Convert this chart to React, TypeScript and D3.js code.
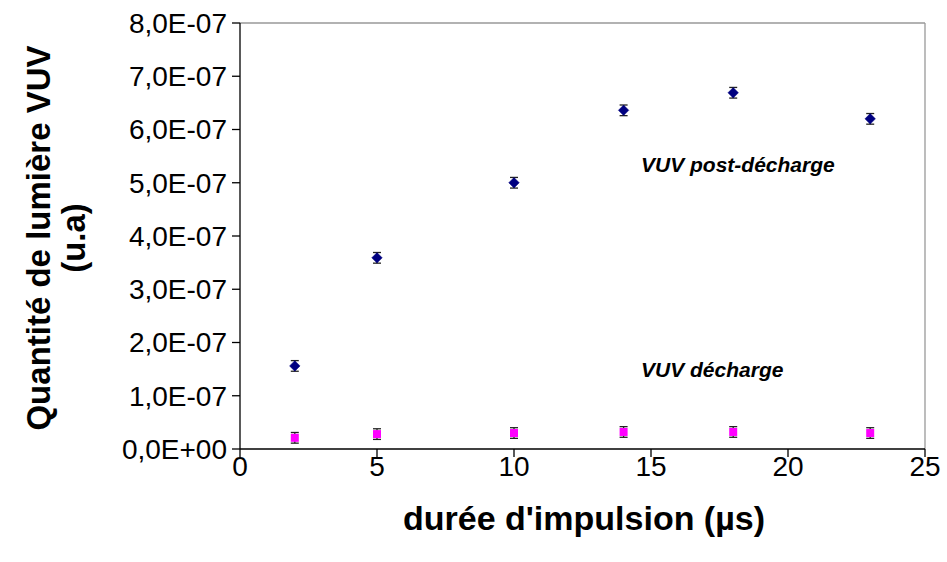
import React from "react";
import * as d3 from "d3";

const durations = [2, 5, 10, 14, 18, 23];
const postDecharge = [1.56e-7, 3.59e-7, 5.0e-7, 6.36e-7, 6.69e-7, 6.2e-7];
const decharge = [0.21e-7, 0.28e-7, 0.3e-7, 0.32e-7, 0.32e-7, 0.3e-7];
const errPost = [0.1e-7, 0.1e-7, 0.1e-7, 0.1e-7, 0.1e-7, 0.1e-7];
const errDech = [0.1e-7, 0.1e-7, 0.1e-7, 0.1e-7, 0.1e-7, 0.1e-7];
const xTicks = [0, 5, 10, 15, 20, 25];
const yTicks = [0, 1e-7, 2e-7, 3e-7, 4e-7, 5e-7, 6e-7, 7e-7, 8e-7];
const yTickLabels = ["0,0E+00", "1,0E-07", "2,0E-07", "3,0E-07", "4,0E-07", "5,0E-07", "6,0E-07", "7,0E-07", "8,0E-07"];

const W = 947, H = 562;
const left = 240, right = 925, top = 23, bottom = 449;

export default function App() {
  const x = d3.scaleLinear().domain([0, 25]).range([left, right]);
  const y = d3.scaleLinear().domain([0, 8e-7]).range([bottom, top]);
  const font = "Arial, 'Liberation Sans', sans-serif";
  const diamond = d3.symbol().type(d3.symbolDiamond2).size(70)();

  const errBar = (xv: number, yv: number, e: number, k: string) => (
    <g key={k} stroke="#222" strokeWidth={1.3}>
      <line x1={x(xv)} x2={x(xv)} y1={y(yv + e)} y2={y(yv - e)} />
      <line x1={x(xv) - 4} x2={x(xv) + 4} y1={y(yv + e)} y2={y(yv + e)} />
      <line x1={x(xv) - 4} x2={x(xv) + 4} y1={y(yv - e)} y2={y(yv - e)} />
    </g>
  );

  return (
    <svg width={W} height={H} style={{ position: "absolute", left: 0, top: 0 }} fontFamily={font}>
      <rect width={W} height={H} fill="#fff" />
      {/* plot border */}
      <line x1={left} x2={right} y1={top} y2={top} stroke="#999" strokeWidth={1.3} />
      <line x1={right} x2={right} y1={top} y2={bottom} stroke="#999" strokeWidth={1.3} />
      {/* axes */}
      <line x1={left} x2={left} y1={top} y2={bottom} stroke="#000" strokeWidth={1.3} />
      <line x1={left} x2={right} y1={bottom} y2={bottom} stroke="#000" strokeWidth={1.3} />
      {yTicks.map((t, i) => (
        <g key={"y" + i}>
          <line x1={left - 8} x2={left} y1={y(t)} y2={y(t)} stroke="#000" strokeWidth={1.3} />
          <text x={227} y={y(t)} dy="0.35em" textAnchor="end" fontSize={28}>{yTickLabels[i]}</text>
        </g>
      ))}
      {xTicks.map((t, i) => (
        <g key={"x" + i}>
          <line x1={x(t)} x2={x(t)} y1={bottom} y2={bottom + 8} stroke="#000" strokeWidth={1.3} />
          <text x={x(t)} y={476} textAnchor="middle" fontSize={28}>{t}</text>
        </g>
      ))}
      {/* error bars */}
      {durations.map((d, i) => errBar(d, postDecharge[i], errPost[i], "ep" + i))}
      {durations.map((d, i) => errBar(d, decharge[i], errDech[i], "ed" + i))}
      {/* markers */}
      {durations.map((d, i) => (
        <path key={"p" + i} d={diamond!} transform={`translate(${x(d)},${y(postDecharge[i])})`} fill="#000080" stroke="#000080" strokeWidth={0.5} />
      ))}
      {durations.map((d, i) => (
        <rect key={"s" + i} x={x(d) - 4} y={y(decharge[i]) - 4} width={8} height={8} fill="#ff00ff" />
      ))}
      {/* annotations */}
      <text x={641} y={172} fontSize={21} fontWeight="bold" fontStyle="italic">VUV post-décharge</text>
      <text x={641} y={377} fontSize={21} fontWeight="bold" fontStyle="italic">VUV décharge</text>
      {/* titles */}
      <text x={584} y={530} textAnchor="middle" fontSize={34} fontWeight="bold">durée d'impulsion (µs)</text>
      <g transform="translate(50,238) rotate(-90)">
        <text x={0} y={0} textAnchor="middle" fontSize={33} fontWeight="bold">Quantité de lumière VUV</text>
        <text x={0} y={35} textAnchor="middle" fontSize={33} fontWeight="bold">(u.a)</text>
      </g>
    </svg>
  );
}
